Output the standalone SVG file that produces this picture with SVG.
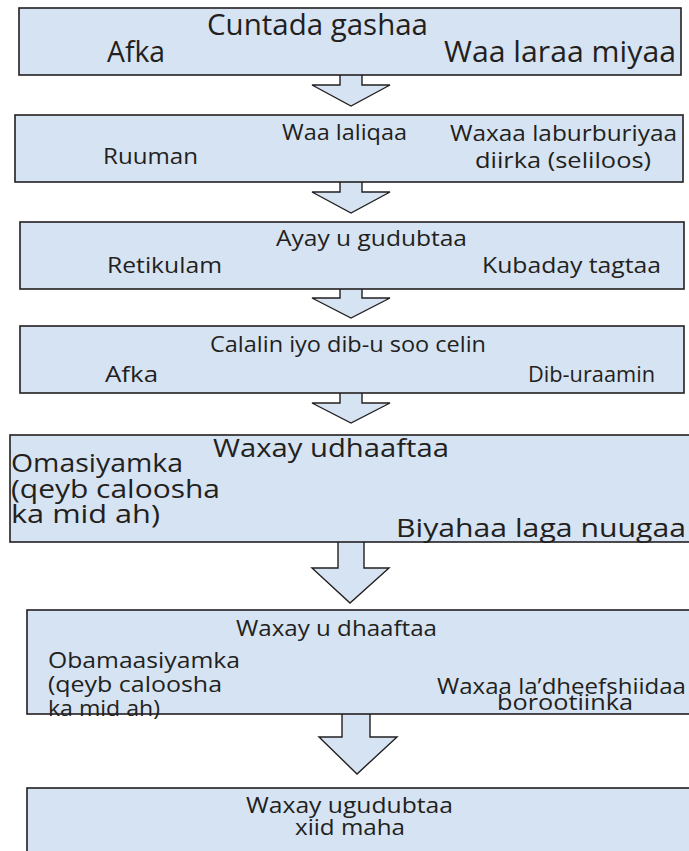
<svg xmlns="http://www.w3.org/2000/svg" width="689" height="851" viewBox="0 0 689 851">
<style>
.box{fill:#d6e3f2;stroke:#231f20;stroke-width:1.6}
.arr{fill:#d6e3f2;stroke:#231f20;stroke-width:1.4;stroke-linejoin:miter}
text{font-family:"Open Sans","Liberation Sans",sans-serif;fill:#231f20}
.t27{font-size:28.5px}
.t21{font-size:22.5px}
.t24{font-size:25px}
</style>
<rect width="689" height="851" fill="#ffffff"/>
<g id="connectors">
<path class="arr" d="M340,75 V85 H312 L351,106 L390,85 H362 V75"/>
<path class="arr" d="M340,182 V192 H312 L351,213 L390,192 H362 V182"/>
<path class="arr" d="M340,289 V298 H312 L351,318 L390,298 H362 V289"/>
<path class="arr" d="M340,393 V403 H312 L351,423 L390,403 H362 V393"/>
<path class="arr" d="M338,542 V568 H312 L350,603 L389,568 H364 V542"/>
<path class="arr" d="M342,714 V737 H319 L357,774 L397,737 H370 V714"/>
</g>
<g id="node1">
<rect class="box" x="19" y="8" width="662" height="67"/>
<text class="t27" x="207" y="35" textLength="221" lengthAdjust="spacingAndGlyphs">Cuntada gashaa</text>
<text class="t27" x="107" y="62" textLength="58" lengthAdjust="spacingAndGlyphs">Afka</text>
<text class="t27" x="444" y="62" textLength="232" lengthAdjust="spacingAndGlyphs">Waa laraa miyaa</text>
</g>
<g id="node2">
<rect class="box" x="15" y="115" width="668" height="67"/>
<text class="t21" x="282" y="140" textLength="125" lengthAdjust="spacingAndGlyphs">Waa laliqaa</text>
<text class="t21" x="103" y="164" textLength="95" lengthAdjust="spacingAndGlyphs">Ruuman</text>
<text class="t21" x="450" y="141" textLength="227" lengthAdjust="spacingAndGlyphs">Waxaa laburburiyaa</text>
<text class="t21" x="475" y="168" textLength="176" lengthAdjust="spacingAndGlyphs">diirka (seliloos)</text>
</g>
<g id="node3">
<rect class="box" x="20" y="222" width="664" height="67"/>
<text class="t21" x="276" y="246" textLength="191" lengthAdjust="spacingAndGlyphs">Ayay u gudubtaa</text>
<text class="t21" x="107" y="273" textLength="115" lengthAdjust="spacingAndGlyphs">Retikulam</text>
<text class="t21" x="482" y="273" textLength="179" lengthAdjust="spacingAndGlyphs">Kubaday tagtaa</text>
</g>
<g id="node4">
<rect class="box" x="20" y="326" width="664" height="67"/>
<text class="t21" x="210" y="352" textLength="276" lengthAdjust="spacingAndGlyphs">Calalin iyo dib-u soo celin</text>
<text class="t21" x="105" y="382" textLength="53" lengthAdjust="spacingAndGlyphs">Afka</text>
<text class="t21" x="528" y="382" textLength="127" lengthAdjust="spacingAndGlyphs">Dib-uraamin</text>
</g>
<g id="node5">
<rect class="box" x="10" y="435" width="684" height="107"/>
<text class="t24" x="213" y="457" textLength="236" lengthAdjust="spacingAndGlyphs">Waxay udhaaftaa</text>
<text class="t24" x="11" y="472" textLength="172" lengthAdjust="spacingAndGlyphs">Omasiyamka</text>
<text class="t24" x="11" y="498" textLength="209" lengthAdjust="spacingAndGlyphs">(qeyb caloosha</text>
<text class="t24" x="11" y="523" textLength="149" lengthAdjust="spacingAndGlyphs">ka mid ah)</text>
<text class="t24" x="396" y="537" textLength="290" lengthAdjust="spacingAndGlyphs">Biyahaa laga nuugaa</text>
</g>
<g id="node6">
<rect class="box" x="27" y="610" width="667" height="104"/>
<text class="t21" x="236" y="636" textLength="201" lengthAdjust="spacingAndGlyphs">Waxay u dhaaftaa</text>
<text class="t21" x="48" y="668" textLength="192" lengthAdjust="spacingAndGlyphs">Obamaasiyamka</text>
<text class="t21" x="48" y="692" textLength="174" lengthAdjust="spacingAndGlyphs">(qeyb caloosha</text>
<text class="t21" x="48" y="716" textLength="112" lengthAdjust="spacingAndGlyphs">ka mid ah)</text>
<text class="t21" x="437" y="694" textLength="249" lengthAdjust="spacingAndGlyphs">Waxaa la’dheefshiidaa</text>
<text class="t21" x="497" y="710" textLength="136" lengthAdjust="spacingAndGlyphs">borootiinka</text>
</g>
<g id="node7">
<rect class="box" x="27" y="788" width="667" height="70"/>
<text class="t21" x="246" y="813" textLength="207" lengthAdjust="spacingAndGlyphs">Waxay ugudubtaa</text>
<text class="t21" x="295" y="835" textLength="110" lengthAdjust="spacingAndGlyphs">xiid maha</text>
</g>
</svg>
